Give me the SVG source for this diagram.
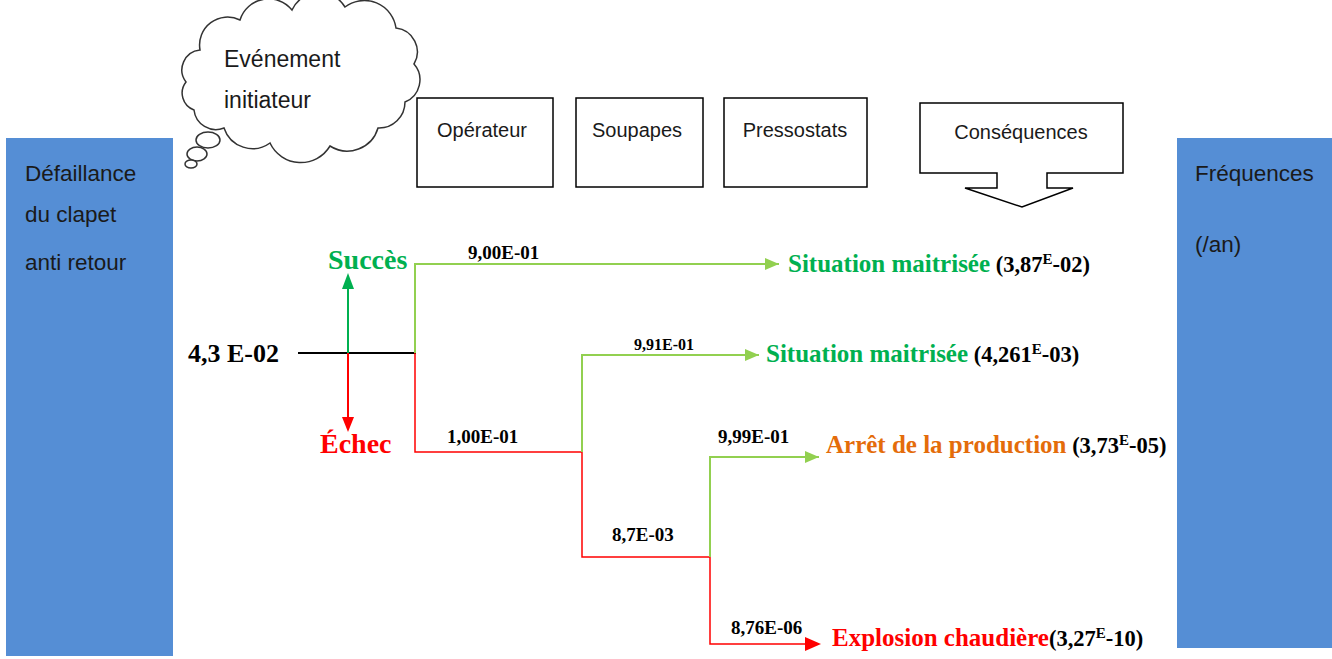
<svg xmlns="http://www.w3.org/2000/svg" width="1332" height="659" viewBox="0 0 1332 659">
<defs>
<style>
.bg{fill:#ffffff}
.blue{fill:#558ED5}
.cal{font-family:"Liberation Sans","Open Sans",sans-serif;fill:#1a1a1a}
.box{fill:#ffffff;stroke:#000000;stroke-width:1.5}
.tb{font-family:"Liberation Serif","Times New Roman",serif;font-weight:bold}
.g{fill:#00B050}
.r{fill:#FF0000}
.o{fill:#E46C0A}
.k{fill:#000000}
.lg{stroke:#92D050;stroke-width:2;fill:none}
.lr{stroke:#FF0000;stroke-width:1.5;fill:none}
.lk{stroke:#000000;stroke-width:2;fill:none}
</style>
<marker id="ag" viewBox="0 0 14 12" refX="14" refY="6" markerWidth="14" markerHeight="12" markerUnits="userSpaceOnUse" orient="auto"><path d="M0,0 L14,6 L0,12 z" fill="#92D050"/></marker>
</defs>
<rect class="bg" x="0" y="0" width="1332" height="659"/>

<g id="left-panel">
<rect class="blue" x="6" y="138" width="167" height="518"/>
<text class="cal" x="25" y="181" font-size="22.5">Défaillance</text>
<text class="cal" x="25" y="222" font-size="22.5">du clapet</text>
<text class="cal" x="25" y="270" font-size="22.5">anti retour</text>
</g>

<g id="right-panel">
<rect class="blue" x="1177" y="138" width="155" height="510"/>
<text class="cal" x="1195" y="181" font-size="22.5">Fréquences</text>
<text class="cal" x="1195" y="252" font-size="22.5">(/an)</text>
</g>

<g id="cloud">
<path d="M186,82 A20,20 0 0 1 200,50 A28,28 0 0 1 240,20 A30,30 0 0 1 292,10 A30,30 0 0 1 345,7 A32,32 0 0 1 396,28 A24,24 0 0 1 414,64 A24,24 0 0 1 405,102 A26,26 0 0 1 378,128 A32,32 0 0 1 330,146 A34,34 0 0 1 270,143 A30,30 0 0 1 224,128 A22,22 0 0 1 194,110 A18,18 0 0 1 186,82 Z" fill="#ffffff" stroke="#333333" stroke-width="1.5"/>
<ellipse cx="208" cy="140" rx="12" ry="8" fill="#ffffff" stroke="#333333" stroke-width="1.5"/>
<ellipse cx="197" cy="154" rx="10" ry="7" fill="#ffffff" stroke="#333333" stroke-width="1.5"/>
<ellipse cx="191" cy="164" rx="6" ry="4" fill="#ffffff" stroke="#333333" stroke-width="1.5"/>
<text class="cal" x="224" y="67" font-size="23">Evénement</text>
<text class="cal" x="224" y="108" font-size="23">initiateur</text>
</g>

<g id="operateur">
<rect class="box" x="417" y="98" width="136" height="89"/>
<text class="cal" x="482" y="137" font-size="20" text-anchor="middle">Opérateur</text>
</g>
<g id="soupapes">
<rect class="box" x="576" y="98" width="127" height="89"/>
<text class="cal" x="637" y="137" font-size="20" text-anchor="middle">Soupapes</text>
</g>
<g id="pressostats">
<rect class="box" x="724" y="98" width="143" height="89"/>
<text class="cal" x="795" y="137" font-size="20" text-anchor="middle">Pressostats</text>
</g>
<g id="consequences">
<path class="box" d="M920,103 L1123,103 L1123,173 L1047,173 L1047,188 L1073,188 L1022,207 L965,188 L997,188 L997,173 L920,173 Z"/>
<text class="cal" x="1021" y="139" font-size="20" text-anchor="middle">Conséquences</text>
</g>

<g id="connectors">
<line class="lk" x1="298" y1="353" x2="416" y2="353"/>
<line x1="348" y1="353" x2="348" y2="288" stroke="#00B050" stroke-width="2"/>
<path d="M342,289 L348,273 L354,289 Z" fill="#00B050"/>
<line x1="348" y1="353" x2="348" y2="418" stroke="#FF0000" stroke-width="2"/>
<path d="M342,417 L348,432 L354,417 Z" fill="#FF0000"/>
<path class="lg" d="M415,353 L415,264 L779,264" marker-end="url(#ag)"/>
<path class="lr" d="M415,353 L415,452 L582,452"/>
<path class="lg" d="M582,452 L582,355 L759,355" marker-end="url(#ag)"/>
<path class="lr" d="M582,452 L582,557 L710,557"/>
<path class="lg" d="M710,557 L710,457 L819,457" marker-end="url(#ag)"/>
<path class="lr" d="M710,557 L710,644 L808,644"/>
<path d="M805,637 L821,644 L805,651 Z" fill="#FF0000"/>
</g>

<g id="tree-labels">
<text class="tb k" x="188" y="362" font-size="26">4,3 E-02</text>
<text class="tb g" x="328" y="269" font-size="28">Succès</text>
<text class="tb r" x="320" y="453" font-size="28">Échec</text>
<text class="tb k" x="468" y="259" font-size="19">9,00E-01</text>
<text class="tb k" x="447" y="443" font-size="19">1,00E-01</text>
<text class="tb k" x="634" y="350" font-size="16">9,91E-01</text>
<text class="tb k" x="612" y="541" font-size="19">8,7E-03</text>
<text class="tb k" x="718" y="443" font-size="19">9,99E-01</text>
<text class="tb k" x="731" y="634" font-size="19">8,76E-06</text>
</g>

<g id="outcome1">
<text class="tb" x="788" y="272" font-size="25"><tspan class="g">Situation maitrisée</tspan><tspan class="k" font-size="22.5"> (3,87</tspan><tspan class="k" font-size="15" dy="-8">E</tspan><tspan class="k" font-size="22.5" dy="8">-02)</tspan></text>
</g>
<g id="outcome2">
<text class="tb" x="766" y="362" font-size="25"><tspan class="g">Situation maitrisée</tspan><tspan class="k" font-size="22.5"> (4,261</tspan><tspan class="k" font-size="15" dy="-8">E</tspan><tspan class="k" font-size="22.5" dy="8">-03)</tspan></text>
</g>
<g id="outcome3">
<text class="tb" x="826" y="453" font-size="25"><tspan class="o">Arrêt de la production</tspan><tspan class="k" font-size="22.5"> (3,73</tspan><tspan class="k" font-size="15" dy="-8">E</tspan><tspan class="k" font-size="22.5" dy="8">-05)</tspan></text>
</g>
<g id="outcome4">
<text class="tb" x="832" y="646" font-size="25"><tspan class="r">Explosion chaudière</tspan><tspan class="k" font-size="22.5">(3,27</tspan><tspan class="k" font-size="15" dy="-8">E</tspan><tspan class="k" font-size="22.5" dy="8">-10)</tspan></text>
</g>
</svg>
